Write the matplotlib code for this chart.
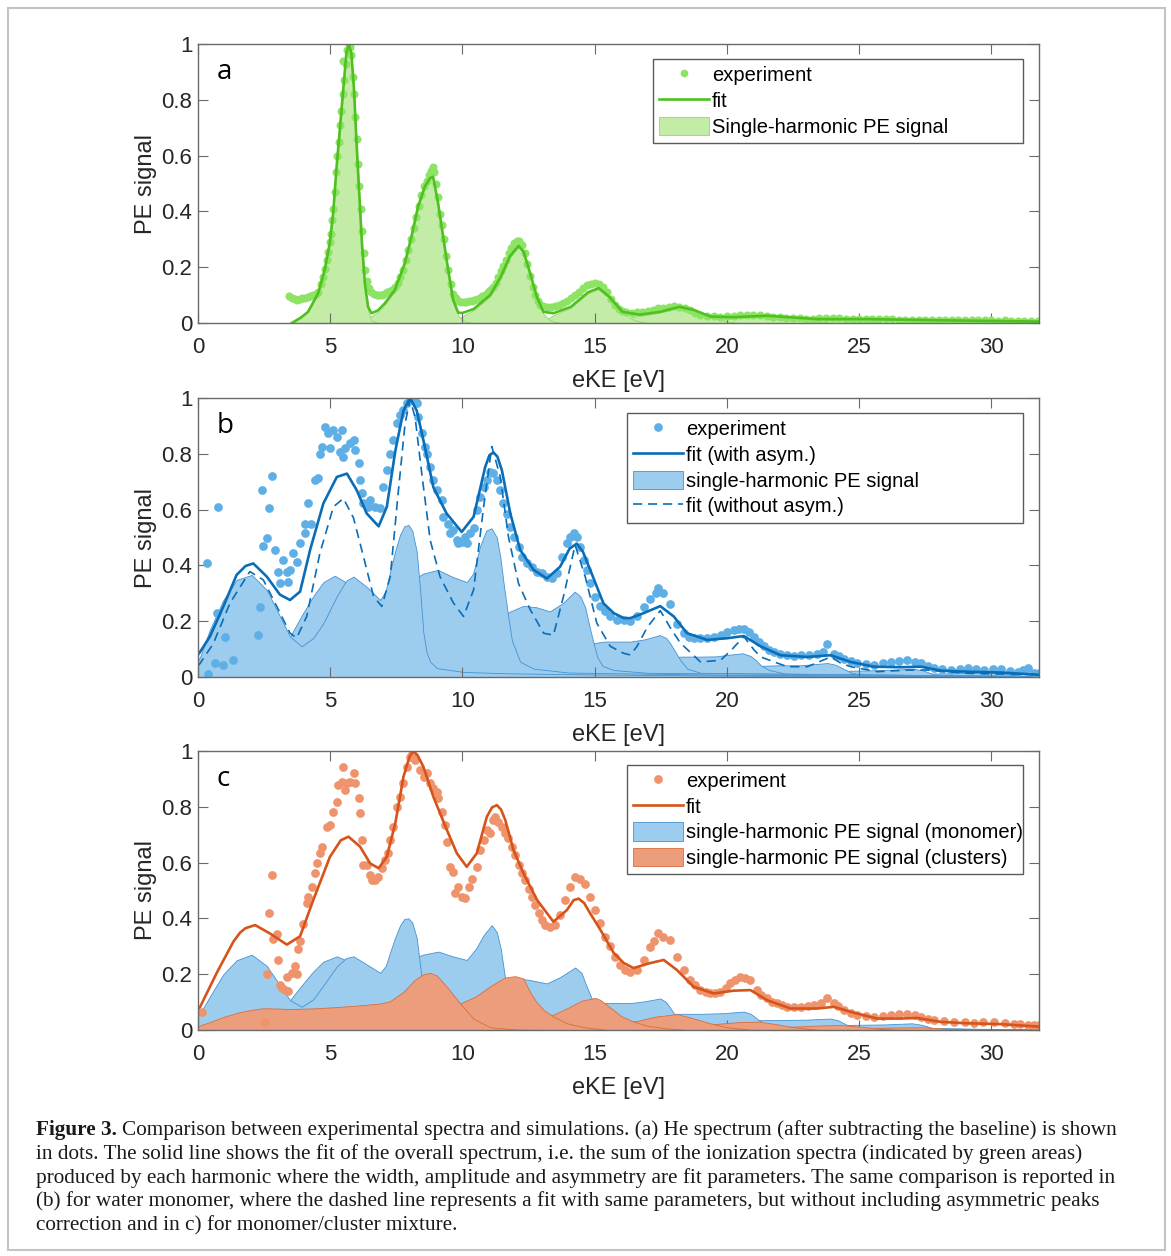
import numpy as np
import matplotlib
matplotlib.use("Agg")
import matplotlib.pyplot as plt
from matplotlib.patches import Rectangle, Patch
from matplotlib.lines import Line2D

plt.rcParams['font.family'] = ['Liberation Sans', 'DejaVu Sans']

W, H = 1171, 1256

x_ticks = [0, 5, 10, 15, 20, 25, 30]
y_ticks = [0, 0.2, 0.4, 0.6, 0.8, 1.0]
y_tick_labels = ['0', '0.2', '0.4', '0.6', '0.8', '1']

# ---------------- (a) helium: [eKE (eV), PE signal] ----------------
he_exp = np.array([
    [3.45, 0.095], [3.55, 0.09], [3.65, 0.085], [3.75, 0.082], [3.85, 0.085], [3.95, 0.088],
    [4.05, 0.09], [4.15, 0.093], [4.25, 0.097], [4.35, 0.1], [4.45, 0.105], [4.54, 0.11],
    [4.65, 0.14], [4.72, 0.165], [4.8, 0.195], [4.87, 0.225], [4.93, 0.255], [4.98, 0.29],
    [5.03, 0.32], [5.08, 0.37], [5.12, 0.41], [5.17, 0.47], [5.22, 0.54], [5.27, 0.6],
    [5.32, 0.65], [5.37, 0.71], [5.42, 0.76], [5.47, 0.82], [5.52, 0.87], [5.5, 0.94],
    [5.58, 0.93], [5.64, 0.98], [5.7, 1.0], [5.74, 0.99], [5.8, 0.96], [5.86, 0.88],
    [5.9, 0.82], [5.95, 0.74], [6.0, 0.66], [6.05, 0.57], [6.1, 0.49], [6.15, 0.41],
    [6.2, 0.33], [6.26, 0.25], [6.32, 0.19], [6.38, 0.15], [6.45, 0.125], [6.55, 0.11],
    [6.65, 0.105], [6.75, 0.1], [6.85, 0.1], [6.95, 0.1], [7.05, 0.105], [7.15, 0.11],
    [7.25, 0.115], [7.35, 0.12], [7.44, 0.13], [7.55, 0.145], [7.65, 0.165], [7.75, 0.19],
    [7.85, 0.225], [7.95, 0.26], [8.05, 0.3], [8.15, 0.34], [8.25, 0.38], [8.35, 0.42],
    [8.45, 0.46], [8.55, 0.49], [8.65, 0.51], [8.75, 0.53], [8.82, 0.545], [8.87, 0.56],
    [8.93, 0.54], [9.0, 0.5], [9.07, 0.45], [9.15, 0.39], [9.22, 0.35], [9.3, 0.3],
    [9.38, 0.24], [9.46, 0.19], [9.55, 0.14], [9.65, 0.105], [9.75, 0.09], [9.85, 0.08],
    [9.95, 0.075], [10.05, 0.075], [10.15, 0.075], [10.25, 0.078], [10.35, 0.08],
    [10.45, 0.082], [10.55, 0.085], [10.65, 0.09], [10.75, 0.095], [10.85, 0.1],
    [10.95, 0.11], [11.05, 0.12], [11.15, 0.13], [11.25, 0.145], [11.35, 0.165],
    [11.45, 0.185], [11.55, 0.205], [11.65, 0.225], [11.75, 0.25], [11.85, 0.27],
    [11.95, 0.285], [12.05, 0.295], [12.15, 0.295], [12.25, 0.28], [12.35, 0.25],
    [12.45, 0.21], [12.55, 0.17], [12.65, 0.13], [12.75, 0.1], [12.85, 0.08],
    [12.95, 0.065], [13.05, 0.06], [13.2, 0.058], [13.35, 0.058], [13.5, 0.06],
    [13.65, 0.065], [13.8, 0.07], [13.95, 0.08], [14.1, 0.09], [14.25, 0.1], [14.4, 0.11],
    [14.55, 0.125], [14.7, 0.135], [14.85, 0.14], [15.0, 0.145], [15.15, 0.14],
    [15.3, 0.13], [15.45, 0.11], [15.6, 0.085], [15.75, 0.065], [15.9, 0.05],
    [16.05, 0.042], [16.2, 0.038], [16.4, 0.037], [16.6, 0.038], [16.8, 0.04],
    [17.0, 0.043], [17.2, 0.047], [17.4, 0.052], [17.6, 0.055], [17.8, 0.058],
    [18.0, 0.06], [18.2, 0.058], [18.4, 0.052], [18.6, 0.045], [18.8, 0.036],
    [19.0, 0.03], [19.25, 0.025], [19.5, 0.024], [19.75, 0.023], [20.0, 0.024],
    [20.25, 0.025], [20.5, 0.027], [20.75, 0.028], [21.0, 0.029], [21.25, 0.028],
    [21.5, 0.026], [21.75, 0.023], [22.0, 0.02], [22.25, 0.019], [22.5, 0.018],
    [22.75, 0.017], [23.0, 0.016], [23.25, 0.016], [23.5, 0.017], [23.75, 0.018],
    [24.0, 0.018], [24.25, 0.017], [24.5, 0.016], [24.75, 0.015], [25.0, 0.014],
    [25.25, 0.014], [25.5, 0.013], [25.75, 0.013], [26.0, 0.014], [26.25, 0.013],
    [26.5, 0.012], [26.75, 0.012], [27.0, 0.012], [27.25, 0.011], [27.5, 0.012],
    [27.75, 0.011], [28.0, 0.011], [28.25, 0.01], [28.5, 0.011], [28.75, 0.01],
    [29.0, 0.01], [29.25, 0.009], [29.5, 0.01], [29.75, 0.009], [30.0, 0.009],
    [30.25, 0.008], [30.5, 0.009], [30.75, 0.008], [31.0, 0.008], [31.25, 0.007],
    [31.5, 0.008], [31.75, 0.007]])

he_fit = np.array([
    [3.55, 0.0], [3.9, 0.02], [4.16, 0.04], [4.54, 0.106], [4.79, 0.19], [4.98, 0.285],
    [5.11, 0.393], [5.23, 0.548], [5.36, 0.69], [5.49, 0.835], [5.61, 0.966], [5.7, 1.0],
    [5.8, 0.966], [5.9, 0.835], [5.99, 0.655], [6.09, 0.476], [6.2, 0.285], [6.31, 0.142],
    [6.43, 0.058], [6.56, 0.035], [6.8, 0.045], [7.06, 0.07], [7.44, 0.118], [7.82, 0.214],
    [8.07, 0.309], [8.32, 0.417], [8.58, 0.49], [8.78, 0.52], [8.89, 0.524], [9.08, 0.429],
    [9.27, 0.309], [9.46, 0.19], [9.65, 0.082], [9.84, 0.037], [10.0, 0.036],
    [10.42, 0.05], [11.05, 0.1], [11.45, 0.166], [11.8, 0.24], [12.12, 0.276],
    [12.31, 0.256], [12.56, 0.178], [12.81, 0.094], [13.06, 0.04], [13.44, 0.035],
    [14.1, 0.058], [14.75, 0.11], [15.15, 0.125], [15.55, 0.094], [16.05, 0.04],
    [16.7, 0.03], [17.48, 0.04], [18.2, 0.058], [18.74, 0.047], [19.38, 0.023],
    [20.26, 0.021], [21.52, 0.026], [22.28, 0.021], [23.41, 0.014], [25.3, 0.014],
    [27.82, 0.01], [31.8, 0.005]])

he_peaks = [
    np.array([[3.55, 0.0], [3.9, 0.02], [4.16, 0.04], [4.54, 0.106], [4.79, 0.19],
              [4.98, 0.285], [5.11, 0.393], [5.23, 0.548], [5.36, 0.69], [5.49, 0.835],
              [5.61, 0.966], [5.7, 1.0], [5.8, 0.966], [5.9, 0.835], [5.99, 0.655],
              [6.09, 0.476], [6.2, 0.285], [6.31, 0.14], [6.43, 0.045], [6.55, 0.01],
              [6.8, 0.0]]),
    np.array([[6.3, 0.0], [6.56, 0.025], [6.8, 0.04], [7.06, 0.065], [7.44, 0.114],
              [7.82, 0.21], [8.07, 0.305], [8.32, 0.413], [8.58, 0.487], [8.78, 0.517],
              [8.89, 0.521], [9.08, 0.426], [9.27, 0.306], [9.46, 0.187], [9.65, 0.075],
              [9.84, 0.025], [10.1, 0.005], [10.4, 0.0]]),
    np.array([[9.6, 0.0], [9.84, 0.012], [10.0, 0.025], [10.42, 0.046], [11.05, 0.096],
              [11.45, 0.162], [11.8, 0.236], [12.12, 0.273], [12.31, 0.253], [12.56, 0.174],
              [12.81, 0.088], [13.06, 0.033], [13.3, 0.01], [13.7, 0.0]]),
    np.array([[12.8, 0.0], [13.06, 0.006], [13.44, 0.028], [14.1, 0.055], [14.75, 0.107],
              [15.15, 0.122], [15.55, 0.091], [16.05, 0.036], [16.5, 0.01], [17.0, 0.0]]),
    np.array([[15.9, 0.0], [16.3, 0.018], [16.7, 0.026], [17.48, 0.038], [18.2, 0.056],
              [18.74, 0.044], [19.38, 0.02], [20.0, 0.005], [20.5, 0.0]]),
    np.array([[19.0, 0.0], [19.6, 0.01], [20.26, 0.017], [21.52, 0.024], [22.28, 0.019],
              [23.0, 0.008], [24.0, 0.0]]),
    np.array([[22.5, 0.0], [23.4, 0.01], [24.6, 0.012], [25.4, 0.005], [26.0, 0.0]]),
]

# ---------------- (b) water monomer ----------------
wat_exp = np.array([
    [0.33, 0.41], [0.77, 0.61], [0.39, 0.01], [0.64, 0.049], [0.71, 0.23], [0.96, 0.043],
    [1.02, 0.145], [1.34, 0.06], [2.28, 0.15], [2.34, 0.25], [2.41, 0.67], [2.47, 0.47],
    [2.6, 0.497], [2.7, 0.605], [2.79, 0.72], [2.91, 0.455], [3.04, 0.377], [3.1, 0.336],
    [3.23, 0.42], [3.35, 0.377], [3.42, 0.342], [3.48, 0.384], [3.61, 0.443], [3.73, 0.413],
    [3.86, 0.479], [4.05, 0.515], [4.05, 0.55], [4.17, 0.622], [4.26, 0.55], [4.43, 0.706],
    [4.55, 0.712], [4.62, 0.8], [4.68, 0.825], [4.81, 0.897], [4.93, 0.873], [4.99, 0.82],
    [5.12, 0.885], [5.25, 0.861], [5.37, 0.808], [5.44, 0.885], [5.5, 0.79], [5.56, 0.82],
    [5.75, 0.837], [5.88, 0.849], [5.94, 0.813], [6.07, 0.766], [6.13, 0.706], [6.19, 0.658],
    [6.25, 0.622], [6.44, 0.61], [6.51, 0.634], [6.7, 0.61], [6.89, 0.604], [7.01, 0.682],
    [7.14, 0.742], [7.26, 0.801], [7.39, 0.849], [7.52, 0.909], [7.64, 0.939], [7.77, 0.957],
    [7.9, 0.981], [8.02, 1.0], [8.15, 0.993], [8.27, 0.981], [8.33, 0.933], [8.46, 0.873],
    [8.59, 0.825], [8.65, 0.801], [8.78, 0.753], [8.9, 0.706], [9.03, 0.67], [9.22, 0.634],
    [9.28, 0.574], [9.47, 0.55], [9.53, 0.515], [9.66, 0.527], [9.79, 0.491], [9.85, 0.479],
    [9.98, 0.485], [10.1, 0.503], [10.16, 0.479], [10.29, 0.515], [10.42, 0.533],
    [10.54, 0.6], [10.67, 0.646], [10.8, 0.682], [10.92, 0.706], [11.05, 0.736],
    [11.17, 0.73], [11.3, 0.706], [11.43, 0.67], [11.55, 0.622], [11.68, 0.586],
    [11.8, 0.539], [11.93, 0.503], [12.12, 0.467], [12.25, 0.431], [12.44, 0.407],
    [12.62, 0.395], [12.81, 0.377], [13.0, 0.372], [13.19, 0.36], [13.38, 0.354],
    [13.57, 0.372], [13.76, 0.431], [13.95, 0.479], [14.07, 0.503], [14.2, 0.515],
    [14.33, 0.503], [14.45, 0.467], [14.58, 0.42], [14.7, 0.384], [14.83, 0.336],
    [15.02, 0.288], [15.21, 0.253], [15.4, 0.235], [15.59, 0.217], [15.84, 0.205],
    [16.09, 0.205], [16.34, 0.199], [16.6, 0.217], [16.85, 0.25], [17.1, 0.28],
    [17.3, 0.3], [17.41, 0.32], [17.6, 0.3], [17.86, 0.26], [18.11, 0.19], [18.36, 0.157],
    [18.55, 0.145], [18.74, 0.14], [19.0, 0.14], [19.25, 0.14], [19.5, 0.145],
    [19.76, 0.15], [20.0, 0.16], [20.26, 0.168], [20.45, 0.172], [20.64, 0.173],
    [20.85, 0.16], [21.02, 0.145], [21.2, 0.125], [21.4, 0.11], [21.6, 0.098],
    [21.78, 0.09], [22.0, 0.083], [22.28, 0.078], [22.55, 0.076], [22.79, 0.078],
    [23.1, 0.08], [23.42, 0.084], [23.65, 0.088], [23.79, 0.12], [24.05, 0.084],
    [24.25, 0.074], [24.43, 0.066], [24.7, 0.056], [24.93, 0.049], [25.25, 0.045],
    [25.56, 0.043], [25.9, 0.05], [26.2, 0.055], [26.5, 0.058], [26.82, 0.06],
    [27.1, 0.055], [27.33, 0.049], [27.6, 0.038], [27.84, 0.031], [28.15, 0.027],
    [28.47, 0.025], [28.8, 0.028], [29.1, 0.031], [29.4, 0.028], [29.73, 0.025],
    [30.05, 0.027], [30.36, 0.028], [30.7, 0.022], [30.99, 0.019], [31.2, 0.024],
    [31.37, 0.031], [31.62, 0.013], [31.8, 0.013]])

wat_fit = np.array([
    [0.0, 0.08], [0.08, 0.09], [0.45, 0.145], [0.96, 0.253], [1.46, 0.366], [1.8, 0.398],
    [2.09, 0.407], [2.6, 0.36], [3.1, 0.295], [3.48, 0.276], [3.86, 0.306], [4.24, 0.456],
    [4.74, 0.622], [5.25, 0.717], [5.63, 0.729], [6.0, 0.67], [6.38, 0.586], [6.83, 0.54],
    [7.14, 0.61], [7.46, 0.81], [7.77, 0.955], [8.02, 1.0], [8.27, 0.955], [8.52, 0.85],
    [8.9, 0.68], [9.4, 0.586], [9.97, 0.52], [10.42, 0.574], [10.86, 0.753], [11.02, 0.795],
    [11.17, 0.805], [11.32, 0.79], [11.49, 0.741], [11.81, 0.586], [12.18, 0.456],
    [12.69, 0.384], [13.19, 0.353], [13.69, 0.395], [14.05, 0.46], [14.32, 0.478],
    [14.55, 0.45], [14.83, 0.384], [15.33, 0.264], [15.72, 0.229], [16.1, 0.211],
    [16.35, 0.211], [16.85, 0.229], [17.48, 0.254], [17.99, 0.217], [18.49, 0.157],
    [19.25, 0.133], [20.01, 0.139], [20.64, 0.147], [21.27, 0.11], [22.03, 0.078],
    [23.04, 0.072], [23.92, 0.078], [24.68, 0.054], [25.56, 0.037], [26.57, 0.035],
    [27.33, 0.037], [28.09, 0.023], [29.1, 0.019], [30.36, 0.016], [31.8, 0.008]])

wat_fit_sym = np.array([
    [0.0, 0.04], [0.08, 0.049], [0.58, 0.12], [1.21, 0.265], [1.96, 0.378], [2.47, 0.348],
    [2.98, 0.253], [3.48, 0.157], [3.73, 0.14], [4.11, 0.217], [4.61, 0.444], [5.12, 0.61],
    [5.5, 0.64], [5.88, 0.57], [6.26, 0.43], [6.64, 0.288], [6.95, 0.253], [7.27, 0.36],
    [7.58, 0.67], [7.83, 0.909], [8.02, 0.995], [8.21, 0.93], [8.46, 0.73], [8.78, 0.49],
    [9.15, 0.36], [9.66, 0.265], [10.04, 0.217], [10.42, 0.312], [10.8, 0.61], [11.11, 0.826],
    [11.43, 0.717], [11.74, 0.502], [12.12, 0.335], [12.57, 0.24], [13.07, 0.157],
    [13.44, 0.15], [13.82, 0.289], [14.26, 0.473], [14.64, 0.36], [15.08, 0.193],
    [15.59, 0.11], [16.09, 0.085], [16.35, 0.079], [16.6, 0.11], [17.0, 0.18],
    [17.48, 0.238], [17.9, 0.17], [18.24, 0.122], [19.0, 0.054], [19.76, 0.06],
    [20.2, 0.1], [20.64, 0.145], [21.0, 0.1], [21.27, 0.072], [22.28, 0.037],
    [23.04, 0.037], [23.5, 0.055], [23.92, 0.072], [24.3, 0.05], [24.68, 0.037],
    [25.69, 0.019], [26.82, 0.025], [27.58, 0.025], [29.1, 0.013], [31.8, 0.008]])

wat_peaks = [
    np.array([[0.0, 0.06], [0.08, 0.072], [0.45, 0.17], [0.96, 0.276], [1.46, 0.348],
              [2.03, 0.366], [2.6, 0.312], [3.1, 0.217], [3.48, 0.145], [3.92, 0.11],
              [4.36, 0.14], [4.74, 0.193], [5.25, 0.29], [5.6, 0.345], [5.88, 0.36],
              [6.38, 0.323], [6.89, 0.276], [7.1, 0.31], [7.27, 0.38], [7.45, 0.45],
              [7.64, 0.51], [7.8, 0.54], [7.96, 0.545], [8.1, 0.525], [8.27, 0.45],
              [8.4, 0.31], [8.52, 0.16], [8.65, 0.085], [8.78, 0.055], [9.03, 0.032],
              [10.04, 0.018], [11.81, 0.013], [14.96, 0.009], [20.0, 0.005], [31.8, 0.002]]),
    np.array([[0.8, 0.0], [2.0, 0.03], [2.8, 0.08], [3.48, 0.145], [3.92, 0.22],
              [4.36, 0.29], [4.74, 0.34], [5.17, 0.363], [5.5, 0.345], [6.0, 0.3],
              [6.5, 0.27], [7.0, 0.28], [7.5, 0.31], [8.0, 0.34], [8.5, 0.37], [9.07, 0.384],
              [9.6, 0.36], [10.16, 0.34], [10.4, 0.37], [10.67, 0.47], [10.9, 0.525],
              [11.1, 0.533], [11.3, 0.5], [11.43, 0.43], [11.55, 0.34], [11.68, 0.25],
              [11.87, 0.13], [12.18, 0.055], [12.69, 0.03], [14.0, 0.016], [20.0, 0.008],
              [31.8, 0.003]]),
    np.array([[4.0, 0.0], [5.5, 0.05], [7.0, 0.15], [8.3, 0.2], [9.5, 0.12], [10.5, 0.15],
              [11.2, 0.2], [11.81, 0.235], [12.3, 0.255], [12.8, 0.25], [13.3, 0.235],
              [13.8, 0.265], [14.24, 0.306], [14.45, 0.29], [14.64, 0.25], [14.83, 0.17],
              [14.96, 0.12], [15.1, 0.07], [15.3, 0.04], [15.7, 0.025], [17.0, 0.015],
              [31.8, 0.004]]),
    np.array([[8.0, 0.0], [10.0, 0.05], [11.5, 0.1], [12.5, 0.06], [13.5, 0.08], [14.5, 0.11],
              [15.0, 0.122], [15.4, 0.127], [16.35, 0.127], [16.9, 0.135], [17.45, 0.15],
              [17.7, 0.14], [17.86, 0.12], [18.05, 0.09], [18.24, 0.06], [18.5, 0.03],
              [19.0, 0.015], [31.8, 0.003]]),
    np.array([[11.0, 0.0], [13.0, 0.03], [14.5, 0.06], [15.5, 0.04], [16.5, 0.05],
              [17.5, 0.065], [18.24, 0.073], [19.0, 0.073], [19.6, 0.074], [20.1, 0.08],
              [20.6, 0.085], [20.9, 0.075], [21.1, 0.06], [21.3, 0.04], [21.6, 0.025],
              [22.2, 0.012], [31.8, 0.003]]),
    np.array([[14.0, 0.0], [16.0, 0.02], [18.0, 0.03], [19.5, 0.035], [21.3, 0.04],
              [22.0, 0.042], [22.8, 0.042], [23.3, 0.046], [23.8, 0.05], [24.1, 0.044],
              [24.4, 0.03], [24.7, 0.015], [25.2, 0.007], [31.8, 0.002]]),
    np.array([[18.0, 0.0], [20.5, 0.012], [23.0, 0.02], [24.5, 0.022], [25.5, 0.024],
              [26.5, 0.027], [27.0, 0.03], [27.4, 0.024], [27.8, 0.01], [28.3, 0.004],
              [31.8, 0.001]]),
    np.array([[22.0, 0.0], [25.0, 0.008], [27.5, 0.012], [29.0, 0.014], [30.1, 0.018],
              [30.5, 0.012], [31.0, 0.005], [31.8, 0.002]]),
]

# ---------------- (c) monomer / cluster mixture ----------------
mix_exp = np.array([
    [0.14, 0.065], [2.53, 0.03], [2.6, 0.2], [2.7, 0.42], [2.79, 0.555], [2.85, 0.326],
    [2.98, 0.343], [3.04, 0.25], [3.1, 0.16], [3.17, 0.15], [3.29, 0.145], [3.35, 0.19],
    [3.42, 0.14], [3.54, 0.205], [3.67, 0.23], [3.73, 0.2], [3.8, 0.29], [3.86, 0.32],
    [3.98, 0.38], [4.11, 0.455], [4.17, 0.478], [4.3, 0.513], [4.43, 0.561], [4.49, 0.597],
    [4.62, 0.633], [4.68, 0.657], [4.87, 0.729], [4.99, 0.735], [5.12, 0.782], [5.25, 0.818],
    [5.31, 0.878], [5.43, 0.89], [5.5, 0.944], [5.56, 0.86], [5.62, 0.884], [5.75, 0.89],
    [5.88, 0.92], [5.94, 0.884], [6.07, 0.83], [6.13, 0.776], [6.19, 0.681], [6.25, 0.591],
    [6.38, 0.591], [6.51, 0.555], [6.57, 0.537], [6.7, 0.537], [6.82, 0.549], [6.95, 0.58],
    [7.07, 0.61], [7.2, 0.633], [7.26, 0.681], [7.39, 0.729], [7.52, 0.8], [7.64, 0.836],
    [7.77, 0.884], [7.9, 0.944], [8.02, 0.98], [8.08, 0.99], [8.21, 0.968], [8.4, 0.932],
    [8.53, 0.908], [8.65, 0.92], [8.78, 0.884], [8.9, 0.866], [9.03, 0.854], [9.09, 0.83],
    [9.22, 0.782], [9.35, 0.735], [9.41, 0.675], [9.53, 0.585], [9.66, 0.567], [9.72, 0.49],
    [9.85, 0.513], [9.97, 0.478], [10.1, 0.472], [10.23, 0.513], [10.35, 0.543],
    [10.54, 0.585], [10.67, 0.645], [10.8, 0.681], [10.92, 0.717], [11.05, 0.705],
    [11.17, 0.752], [11.24, 0.764], [11.36, 0.746], [11.49, 0.729], [11.62, 0.705],
    [11.74, 0.687], [11.87, 0.657], [11.99, 0.627], [12.12, 0.591], [12.25, 0.561],
    [12.37, 0.537], [12.5, 0.507], [12.62, 0.478], [12.75, 0.448], [12.88, 0.418],
    [13.0, 0.394], [13.13, 0.376], [13.32, 0.37], [13.51, 0.376], [13.7, 0.412],
    [13.88, 0.466], [14.07, 0.513], [14.26, 0.549], [14.45, 0.543], [14.64, 0.525],
    [14.83, 0.478], [15.02, 0.43], [15.21, 0.382], [15.4, 0.335], [15.59, 0.3],
    [15.78, 0.263], [15.97, 0.233], [16.16, 0.215], [16.34, 0.209], [16.6, 0.215],
    [16.85, 0.25], [17.1, 0.297], [17.25, 0.32], [17.41, 0.347], [17.6, 0.335],
    [17.86, 0.323], [18.11, 0.263], [18.36, 0.215], [18.62, 0.18], [18.8, 0.16],
    [19.0, 0.143], [19.2, 0.135], [19.37, 0.131], [19.55, 0.133], [19.75, 0.137],
    [19.95, 0.15], [20.13, 0.167], [20.3, 0.18], [20.5, 0.191], [20.7, 0.188],
    [20.89, 0.18], [21.14, 0.143], [21.3, 0.125], [21.52, 0.113], [21.7, 0.102],
    [21.9, 0.095], [22.1, 0.088], [22.28, 0.083], [22.55, 0.082], [22.79, 0.083],
    [23.05, 0.086], [23.29, 0.089], [23.55, 0.095], [23.79, 0.113], [24.04, 0.095],
    [24.2, 0.085], [24.42, 0.071], [24.7, 0.06], [24.93, 0.053], [25.25, 0.05],
    [25.56, 0.047], [25.9, 0.05], [26.19, 0.053], [26.5, 0.056], [26.82, 0.059],
    [27.1, 0.054], [27.33, 0.047], [27.6, 0.04], [27.83, 0.035], [28.2, 0.031],
    [28.59, 0.029], [29.0, 0.027], [29.35, 0.025], [29.7, 0.027], [30.1, 0.029],
    [30.5, 0.026], [30.86, 0.023], [31.1, 0.02], [31.37, 0.017], [31.6, 0.018],
    [31.8, 0.017]])

mix_fit = np.array([
    [0.0, 0.075], [0.08, 0.083], [0.71, 0.205], [1.34, 0.317], [1.6, 0.35], [1.8, 0.365],
    [2.16, 0.376], [2.72, 0.346], [3.36, 0.306], [3.86, 0.336], [4.36, 0.466], [4.99, 0.621],
    [5.4, 0.68], [5.69, 0.693], [6.13, 0.657], [6.51, 0.597], [6.83, 0.58], [7.14, 0.621],
    [7.46, 0.741], [7.77, 0.908], [8.0, 0.98], [8.14, 1.0], [8.3, 0.985], [8.52, 0.944],
    [8.9, 0.836], [9.41, 0.717], [9.79, 0.633], [10.16, 0.585], [10.54, 0.633],
    [10.92, 0.764], [11.12, 0.798], [11.3, 0.806], [11.46, 0.79], [11.62, 0.752],
    [11.93, 0.645], [12.31, 0.561], [12.82, 0.466], [13.44, 0.388], [13.95, 0.43],
    [14.2, 0.465], [14.39, 0.471], [14.6, 0.455], [14.83, 0.418], [15.21, 0.36],
    [15.72, 0.276], [16.1, 0.24], [16.47, 0.222], [17.1, 0.24], [17.61, 0.251],
    [18.11, 0.215], [18.74, 0.155], [19.5, 0.131], [20.26, 0.141], [20.89, 0.143],
    [21.52, 0.107], [22.4, 0.077], [23.41, 0.077], [24.04, 0.083], [24.79, 0.062],
    [25.68, 0.041], [26.57, 0.041], [27.2, 0.043], [28.09, 0.029], [29.1, 0.024],
    [30.36, 0.021], [31.8, 0.012]])

mix_mono_peaks = [
    np.array([[0.0, 0.05], [0.08, 0.06], [0.45, 0.12], [0.96, 0.2], [1.46, 0.25],
              [2.03, 0.27], [2.6, 0.23], [3.1, 0.16], [3.48, 0.107], [3.92, 0.083],
              [4.36, 0.11], [4.74, 0.16], [5.25, 0.228], [5.6, 0.258], [5.88, 0.264],
              [6.38, 0.235], [6.89, 0.205], [7.1, 0.23], [7.27, 0.28], [7.45, 0.33],
              [7.64, 0.375], [7.8, 0.398], [7.96, 0.4], [8.1, 0.385], [8.27, 0.33],
              [8.4, 0.23], [8.52, 0.12], [8.65, 0.065], [8.78, 0.04], [9.03, 0.024],
              [10.0, 0.013], [12.0, 0.009], [15.0, 0.006], [20.0, 0.004], [31.8, 0.001]]),
    np.array([[0.8, 0.0], [2.0, 0.02], [2.8, 0.06], [3.48, 0.107], [3.92, 0.16], [4.36, 0.21],
              [4.74, 0.245], [5.25, 0.264], [5.6, 0.25], [6.0, 0.22], [6.5, 0.2], [7.0, 0.205],
              [7.5, 0.225], [8.0, 0.25], [8.5, 0.27], [9.09, 0.281], [9.6, 0.265],
              [10.16, 0.251], [10.5, 0.29], [10.8, 0.34], [11.11, 0.376], [11.3, 0.35],
              [11.45, 0.29], [11.62, 0.18], [11.8, 0.09], [12.1, 0.04], [12.6, 0.022],
              [14.0, 0.012], [20.0, 0.006], [31.8, 0.002]]),
    np.array([[4.0, 0.0], [5.5, 0.04], [7.0, 0.1], [8.3, 0.14], [9.5, 0.09], [10.5, 0.11],
              [11.2, 0.15], [11.62, 0.18], [12.0, 0.186], [12.5, 0.18], [13.19, 0.167],
              [13.7, 0.19], [14.26, 0.224], [14.5, 0.205], [14.7, 0.155], [14.9, 0.11],
              [15.1, 0.07], [15.35, 0.035], [15.8, 0.02], [17.0, 0.012], [31.8, 0.003]]),
    np.array([[8.0, 0.0], [10.0, 0.04], [11.5, 0.07], [12.5, 0.05], [13.5, 0.06],
              [14.5, 0.085], [14.9, 0.095], [15.5, 0.097], [16.4, 0.097], [16.9, 0.103],
              [17.48, 0.113], [17.7, 0.1], [17.85, 0.08], [17.99, 0.06], [18.2, 0.035],
              [18.6, 0.018], [19.5, 0.01], [31.8, 0.002]]),
    np.array([[11.0, 0.0], [13.0, 0.02], [14.5, 0.04], [16.0, 0.04], [17.5, 0.05],
              [17.99, 0.058], [19.0, 0.058], [19.8, 0.06], [20.64, 0.066], [20.9, 0.058],
              [21.14, 0.04], [21.4, 0.022], [21.9, 0.01], [31.8, 0.002]]),
    np.array([[14.0, 0.0], [17.0, 0.015], [19.5, 0.025], [21.14, 0.035], [22.0, 0.036],
              [23.0, 0.037], [23.9, 0.041], [24.2, 0.035], [24.5, 0.02], [24.9, 0.008],
              [31.8, 0.001]]),
    np.array([[18.0, 0.0], [21.0, 0.01], [24.5, 0.018], [26.0, 0.02], [27.0, 0.024],
              [27.4, 0.018], [27.8, 0.006], [31.8, 0.001]]),
]

mix_clus_peaks = [
    np.array([[0.0, 0.014], [0.5, 0.03], [1.0, 0.048], [1.5, 0.062], [2.0, 0.072],
              [2.47, 0.078], [3.0, 0.077], [3.48, 0.075], [4.5, 0.078], [5.37, 0.083],
              [6.2, 0.089], [6.89, 0.095], [7.26, 0.103], [7.77, 0.137], [8.2, 0.18],
              [8.53, 0.2], [8.78, 0.205], [9.03, 0.195], [9.41, 0.155], [9.91, 0.095],
              [10.42, 0.04], [11.05, 0.01], [12.0, 0.002], [13.0, 0.0]]),
    np.array([[4.0, 0.0], [6.0, 0.02], [8.0, 0.05], [9.0, 0.07], [9.91, 0.095], [10.5, 0.12],
              [11.1, 0.16], [11.6, 0.188], [11.99, 0.193], [12.3, 0.185], [12.56, 0.135],
              [12.8, 0.1], [13.07, 0.072], [13.44, 0.048], [13.95, 0.024], [14.6, 0.01],
              [15.5, 0.0]]),
    np.array([[7.0, 0.0], [9.0, 0.02], [11.0, 0.04], [12.5, 0.045], [13.44, 0.055],
              [14.0, 0.08], [14.5, 0.105], [15.02, 0.115], [15.21, 0.108], [15.6, 0.08],
              [16.0, 0.05], [16.47, 0.03], [17.0, 0.015], [17.8, 0.005], [18.5, 0.0]]),
    np.array([[10.0, 0.0], [13.0, 0.015], [15.5, 0.025], [16.6, 0.032], [17.3, 0.048],
              [18.11, 0.057], [18.6, 0.045], [19.37, 0.024], [20.0, 0.01], [21.0, 0.0]]),
    np.array([[13.0, 0.0], [16.0, 0.01], [18.5, 0.015], [19.37, 0.02], [20.4, 0.028],
              [21.2, 0.03], [21.8, 0.022], [22.5, 0.01], [23.5, 0.0]]),
    np.array([[16.0, 0.0], [20.0, 0.008], [22.5, 0.012], [23.5, 0.016], [24.3, 0.018],
              [25.0, 0.012], [25.8, 0.004], [26.5, 0.0]]),
    np.array([[19.0, 0.0], [24.0, 0.006], [26.5, 0.009], [27.4, 0.01], [28.2, 0.005],
              [29.0, 0.0]]),
]

caption_lines = [
    "Comparison between experimental spectra and simulations. (a) He spectrum (after subtracting the baseline) is shown",
    "in dots. The solid line shows the fit of the overall spectrum, i.e. the sum of the ionization spectra (indicated by green areas)",
    "produced by each harmonic where the width, amplitude and asymmetry are fit parameters. The same comparison is reported in",
    "(b) for water monomer, where the dashed line represents a fit with same parameters, but without including asymmetric peaks",
    "correction and in c) for monomer/cluster mixture.",
]

# colours
GREEN_LINE, GREEN_DOT, GREEN_FILL, GREEN_EDGE = '#4fc11f', '#8ce364', '#c3eca7', '#93d770'
BLUE_LINE, BLUE_DOT, BLUE_FILL, BLUE_EDGE = '#0a6db8', '#5eafe6', '#9ccdef', '#4592d2'
ORANGE_LINE, ORANGE_DOT, ORANGE_FILL, ORANGE_EDGE = '#d6541a', '#ee936c', '#ec9e7c', '#d96d3c'
TXT = '#262626'


def draw_peaks(ax, peaks, face, edge, z0):
    # lowest harmonic ends up on top
    for i, pk in enumerate(peaks[::-1]):
        ax.fill_between(pk[:, 0], 0, pk[:, 1], facecolor=face, edgecolor=edge,
                        lw=0.6, zorder=z0 + 0.01 * i)


def setup(ax, letter):
    ax.set_xlim(0, 31.8)
    ax.set_ylim(0, 1)
    ax.set_xticks(x_ticks)
    ax.set_xticklabels([str(t) for t in x_ticks])
    ax.set_yticks(y_ticks)
    ax.set_yticklabels(y_tick_labels)
    ax.tick_params(direction='in', length=7, width=0.8, top=True, right=True,
                   labelsize=16, color='#6a6a6a', labelcolor=TXT)
    ax.tick_params(axis='x', pad=10)
    ax.tick_params(axis='y', pad=4)
    for s in ax.spines.values():
        s.set_color('#6a6a6a')
        s.set_linewidth(1.0)
        s.set_zorder(6)
    ax.set_xlabel('eKE [eV]', fontsize=17, color=TXT, labelpad=9)
    ax.set_ylabel('PE signal', fontsize=17, color=TXT, labelpad=3)
    ax.text(0.022, 0.9, letter, transform=ax.transAxes, fontsize=20,
            family='Open Sans', color='black', va='center', ha='left', zorder=7)


def add_legend(ax, handles, labels, x0, width, top):
    leg = ax.legend(handles, labels, loc='upper left', bbox_to_anchor=(x0, 0, width, top),
                    mode='expand', borderaxespad=0, fontsize=14.5, frameon=True,
                    fancybox=False, edgecolor='#5a5a5a', framealpha=1, numpoints=1,
                    handlelength=2.45, handletextpad=0.15, handleheight=1.0,
                    labelspacing=0.28, borderpad=0.32)
    leg.get_frame().set_linewidth(1.0)
    leg.set_zorder(8)
    for t in leg.get_texts():
        t.set_color('black')


fig = plt.figure(figsize=(W / 100, H / 100), dpi=100)
axes = [fig.add_axes([198 / W, 1 - (top + 279) / H, 841 / W, 279 / H]) for top in (44, 398, 751)]
ax_a, ax_b, ax_c = axes

# (a)
draw_peaks(ax_a, he_peaks, GREEN_FILL, GREEN_EDGE, 1)
ax_a.plot(he_exp[:, 0], he_exp[:, 1], 'o', ms=5.8, mew=0, color=GREEN_DOT, zorder=3)
ax_a.plot(he_fit[:, 0], he_fit[:, 1], color=GREEN_LINE, lw=1.9, zorder=4)
setup(ax_a, 'a')
add_legend(ax_a,
           [Line2D([], [], ls='none', marker='o', ms=5.5, mew=0, color=GREEN_DOT),
            Line2D([], [], color=GREEN_LINE, lw=1.9),
            Patch(facecolor=GREEN_FILL, edgecolor=GREEN_EDGE, lw=0.6)],
           ['experiment', 'fit', 'Single-harmonic PE signal'], 0.541, 0.44, 0.946)

# (b)
draw_peaks(ax_b, wat_peaks, BLUE_FILL, BLUE_EDGE, 1)
ax_b.plot(wat_exp[:, 0], wat_exp[:, 1], 'o', ms=6.3, mew=0, color=BLUE_DOT, zorder=3)
ax_b.plot(wat_fit[:, 0], wat_fit[:, 1], color=BLUE_LINE, lw=1.9, zorder=4)
ax_b.plot(wat_fit_sym[:, 0], wat_fit_sym[:, 1], color=BLUE_LINE, lw=1.2,
          dashes=(5.5, 3.5), zorder=4)
setup(ax_b, 'b')
add_legend(ax_b,
           [Line2D([], [], ls='none', marker='o', ms=6.3, mew=0, color=BLUE_DOT),
            Line2D([], [], color=BLUE_LINE, lw=1.9),
            Patch(facecolor=BLUE_FILL, edgecolor=BLUE_EDGE, lw=0.6),
            Line2D([], [], color=BLUE_LINE, lw=1.2, dashes=(5.5, 3.5))],
           ['experiment', 'fit (with asym.)', 'single-harmonic PE signal',
            'fit (without asym.)'], 0.510, 0.471, 0.946)

# (c)
draw_peaks(ax_c, mix_mono_peaks, BLUE_FILL, BLUE_EDGE, 1)
draw_peaks(ax_c, mix_clus_peaks, ORANGE_FILL, ORANGE_EDGE, 2)
ax_c.plot(mix_exp[:, 0], mix_exp[:, 1], 'o', ms=6.3, mew=0, color=ORANGE_DOT, zorder=3)
ax_c.plot(mix_fit[:, 0], mix_fit[:, 1], color=ORANGE_LINE, lw=1.9, zorder=4)
setup(ax_c, 'c')
add_legend(ax_c,
           [Line2D([], [], ls='none', marker='o', ms=6.3, mew=0, color=ORANGE_DOT),
            Line2D([], [], color=ORANGE_LINE, lw=1.9),
            Patch(facecolor=BLUE_FILL, edgecolor=BLUE_EDGE, lw=0.6),
            Patch(facecolor=ORANGE_FILL, edgecolor=ORANGE_EDGE, lw=0.6)],
           ['experiment', 'fit', 'single-harmonic PE signal (monomer)',
            'single-harmonic PE signal (clusters)'], 0.510, 0.471, 0.95)

# caption
cap_kw = dict(family='Liberation Serif', fontsize=15.3, color='#1a1a1a', va='baseline', ha='left')
renderer = fig.canvas.get_renderer()
base0, step = 1135, 23.75
t0 = fig.text(36 / W, 1 - base0 / H, 'Figure 3.', fontweight='bold', **cap_kw)
bb = t0.get_window_extent(renderer)
fig.text((bb.x1 + 5) / W, 1 - base0 / H, caption_lines[0], **cap_kw)
for i, line in enumerate(caption_lines[1:], start=1):
    fig.text(36 / W, 1 - (base0 + i * step) / H, line, **cap_kw)

# outer frame
fig.add_artist(Rectangle((8 / W, 1 - 1250 / H), (1165 - 8) / W, (1250 - 8) / H,
                         transform=fig.transFigure, fill=False, ec='#c4c4c4', lw=1.5))

fig.savefig('out.png', dpi=100)
